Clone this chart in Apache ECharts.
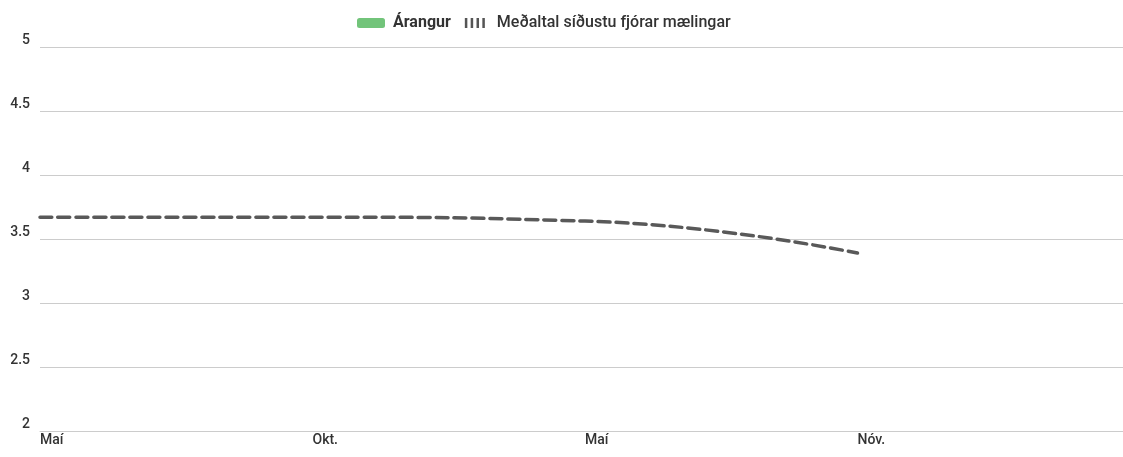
<!DOCTYPE html>
<html><head><meta charset="utf-8">
<script src="https://cdn.jsdelivr.net/npm/echarts@6/dist/echarts.min.js"></script>
<style>html,body{margin:0;padding:0;background:#fff}#c{width:1123px;height:457px}</style>
</head><body><div id="c"></div>
<script>
const categories = ['Maí', 'Okt.', 'Maí', 'Nóv.', ''];
const arangur = [null, null, null, null, null];
const medaltal = [3.67, 3.67, 3.64, 3.39, null];
const yTicks = { min: 2, max: 5, interval: 0.5 };

const font = 'Roboto, "Liberation Sans Narrow", sans-serif';
const chart = echarts.init(document.getElementById('c'), null, { renderer: 'canvas' });
chart.setOption({
  animation: false,
  textStyle: { fontFamily: font },
  legend: {
    top: 10, left: 352,
    itemGap: 14, itemWidth: 28, itemHeight: 10,
    textStyle: { fontFamily: font, fontSize: 16, color: '#333', fontWeight: 500, padding: [0, 0, 0, 3] },
    data: [
      { name: 'Árangur', icon: 'roundRect', itemStyle: { color: '#72c47a', borderWidth: 0 }, textStyle: { fontWeight: 'bold' } },
      { name: 'Meðaltal síðustu fjórar mælingar',
        icon: 'path://M0,0h3v12h-3z M7,0h3v12h-3z M14,0h3v12h-3z M21,0h3v12h-3z',
        itemStyle: { color: '#555', borderWidth: 0 },
        lineStyle: { width: 0 } }
    ]
  },
  grid: { left: 40, width: 1090, top: 47, bottom: 26, containLabel: false, outerBoundsMode: 'none' },
  xAxis: {
    type: 'category', data: categories, boundaryGap: false,
    axisLine: { lineStyle: { color: '#ccc' } },
    axisTick: { show: false },
    axisLabel: { color: '#333', fontSize: 14, fontWeight: 500, align: 'left', margin: 2, fontFamily: font }
  },
  yAxis: {
    type: 'value', min: yTicks.min, max: yTicks.max, interval: yTicks.interval,
    axisLine: { show: false }, axisTick: { show: false },
    splitLine: { lineStyle: { color: '#ccc' } },
    axisLabel: { color: '#333', fontSize: 14, fontWeight: 500, margin: 10, verticalAlign: 'bottom', fontFamily: font }
  },
  series: [
    { name: 'Árangur', type: 'line', data: arangur, itemStyle: { color: '#72c47a' }, showSymbol: false },
    { name: 'Meðaltal síðustu fjórar mælingar', type: 'line', data: medaltal, smooth: true,
      showSymbol: false, symbol: 'none',
      lineStyle: { color: '#595959', width: 3.5, type: [12, 6], cap: 'round' },
      itemStyle: { color: '#595959' } }
  ]
});
</script></body></html>
